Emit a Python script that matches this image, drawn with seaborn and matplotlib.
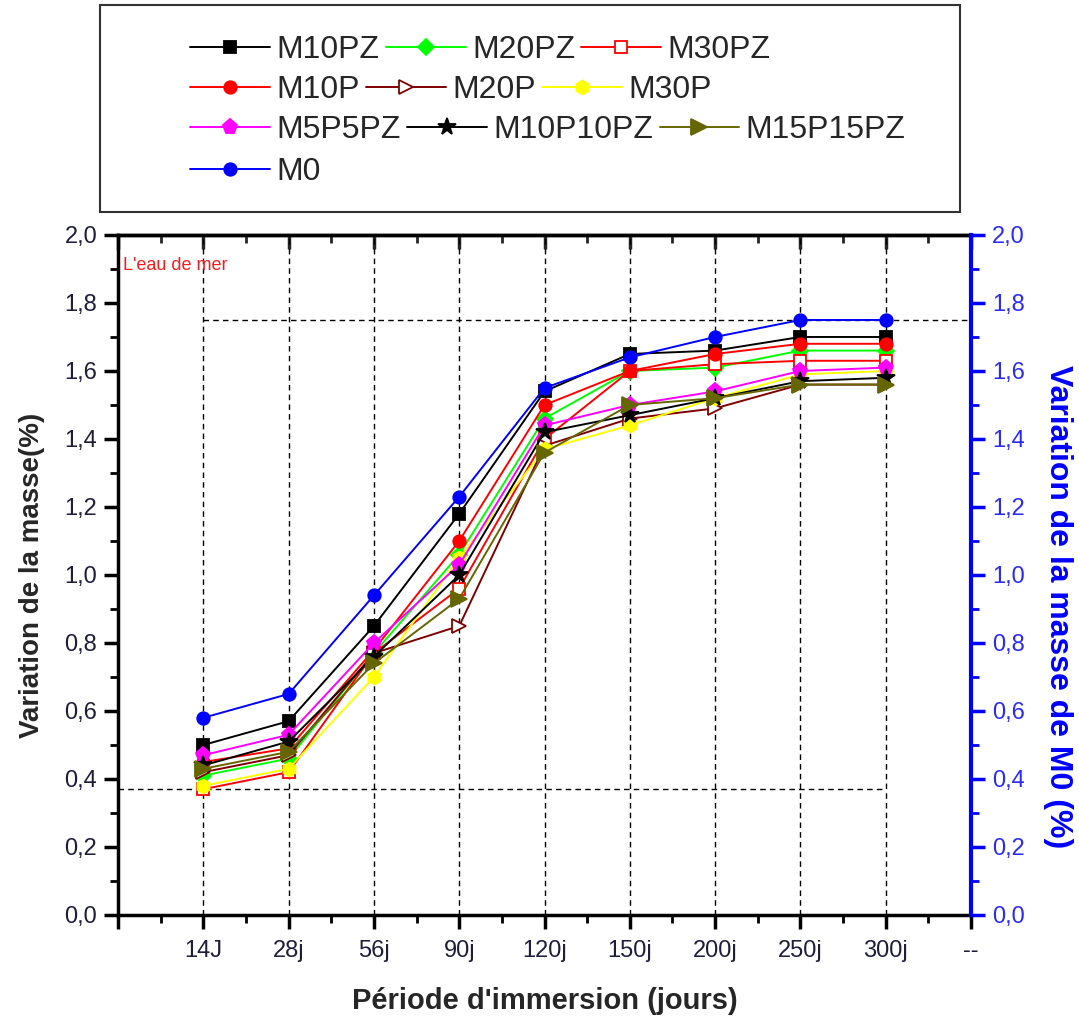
import numpy as np
import pandas as pd
import matplotlib
matplotlib.use("Agg")
import matplotlib.pyplot as plt
import seaborn as sns
from matplotlib.patches import Rectangle
from matplotlib.ticker import MultipleLocator, FuncFormatter

# ------------------------------------------------
# DATA
# ------------------------------------------------

periods = ["14J", "28j", "56j", "90j", "120j", "150j", "200j", "250j", "300j"]

m10pz = [0.50, 0.57, 0.85, 1.18, 1.54, 1.65, 1.66, 1.70, 1.70]
m20pz = [0.41, 0.46, 0.77, 1.06, 1.46, 1.60, 1.61, 1.66, 1.66]
m30pz = [0.37, 0.42, 0.77, 0.96, 1.40, 1.60, 1.62, 1.63, 1.63]
m10p = [0.45, 0.49, 0.78, 1.10, 1.50, 1.60, 1.65, 1.68, 1.68]
m20p = [0.42, 0.47, 0.77, 0.85, 1.38, 1.46, 1.49, 1.56, 1.56]
m30p = [0.38, 0.43, 0.70, 1.05, 1.37, 1.44, 1.52, 1.59, 1.60]
m5p5pz = [0.47, 0.53, 0.80, 1.03, 1.44, 1.50, 1.54, 1.60, 1.61]
m10p10pz = [0.44, 0.51, 0.76, 1.00, 1.42, 1.47, 1.52, 1.57, 1.58]
m15p15pz = [0.43, 0.48, 0.74, 0.93, 1.36, 1.50, 1.52, 1.56, 1.56]
m0 = [0.58, 0.65, 0.94, 1.23, 1.55, 1.64, 1.70, 1.75, 1.75]

series = {
    "M10PZ": m10pz, "M20PZ": m20pz, "M30PZ": m30pz,
    "M10P": m10p, "M20P": m20p, "M30P": m30p,
    "M5P5PZ": m5p5pz, "M10P10PZ": m10p10pz, "M15P15PZ": m15p15pz,
    "M0": m0,
}

# name: (color, marker, face, size)
styles = {
    "M10PZ": ("#000000", "s", "#000000", 8),
    "M20PZ": ("#00ff00", "D", "#00ff00", 8),
    "M30PZ": ("#ff0000", "s", "#ffffff", 8),
    "M10P": ("#ff0000", "o", "#ff0000", 9),
    "M20P": ("#800000", ">", "#ffffff", 10),
    "M30P": ("#ffff00", "h", "#ffff00", 10),
    "M5P5PZ": ("#ff00ff", "p", "#ff00ff", 11),
    "M10P10PZ": ("#000000", "*", "#000000", 13),
    "M15P15PZ": ("#666600", ">", "#666600", 11),
    "M0": ("#0000ff", "o", "#0000ff", 9),
}

legend_rows = [
    ["M10PZ", "M20PZ", "M30PZ"],
    ["M10P", "M20P", "M30P"],
    ["M5P5PZ", "M10P10PZ", "M15P15PZ"],
    ["M0"],
]

x_labels = [""] + periods + ["--"]

# ------------------------------------------------
# FIGURE
# ------------------------------------------------

sns.set_theme(style="ticks")
plt.rcParams["font.family"] = ["Liberation Sans", "DejaVu Sans"]

fig = plt.figure(figsize=(10.79, 10.23), dpi=100)
ax = fig.add_axes([0.1094, 0.1056, 0.7905, 0.6647])

pos = np.arange(1, len(periods) + 1)

# reference dashed lines
all_vals = np.concatenate([np.array(v) for v in series.values()])
for p in pos:
    ax.axvline(p, color="black", lw=1, ls=(0, (4, 3)), zorder=1)
ax.hlines(all_vals.max(), pos[0], len(periods) + 1, color="black", lw=1,
          ls=(0, (4, 3)), zorder=1)
ax.hlines(all_vals.min(), 0, pos[-1], color="black", lw=1,
          ls=(0, (4, 3)), zorder=1)

for name, vals in series.items():
    color, marker, face, ms = styles[name]
    df = pd.DataFrame({"pos": pos, "val": vals})
    sns.lineplot(
        data=df, x="pos", y="val", ax=ax, color=color, linewidth=1.4,
        marker=marker, markersize=ms, markerfacecolor=face,
        markeredgecolor=color, markeredgewidth=1.3, label=name,
        legend=False, errorbar=None, sort=False, zorder=3,
    )

ax.set_xlim(0, len(periods) + 1)
ax.set_ylim(0, 2.0)

comma = FuncFormatter(lambda v, _: f"{v:.1f}".replace(".", ","))

ax.set_xticks(np.arange(0, len(periods) + 2))
ax.set_xticklabels(x_labels)
ax.xaxis.set_minor_locator(MultipleLocator(0.5))
ax.yaxis.set_major_locator(MultipleLocator(0.2))
ax.yaxis.set_minor_locator(MultipleLocator(0.1))
ax.yaxis.set_major_formatter(comma)

ax.tick_params(axis="both", which="major", direction="out", length=10,
               width=2.5, labelsize=17, pad=5, colors="black",
               labelcolor="#1e1e3c")
ax.tick_params(axis="both", which="minor", direction="out", length=6,
               width=2, colors="black")
ax.tick_params(axis="x", which="major", pad=8)

for side in ["left", "bottom", "top"]:
    ax.spines[side].set_linewidth(2.5)
    ax.spines[side].set_color("black")
ax.spines["right"].set_visible(False)

ax.set_xlabel("Période d'immersion (jours)", fontsize=21, fontweight="bold",
              labelpad=18)
ax.set_ylabel("Variation de la masse(%)", fontsize=20, fontweight="bold",
              labelpad=14)

# top ticks pointing inward
top = ax.secondary_xaxis("top")
top.set_xticks(np.arange(0, len(periods) + 2))
top.xaxis.set_minor_locator(MultipleLocator(0.5))
top.tick_params(axis="x", which="major", direction="in", length=10,
                width=2.5, labeltop=False)
top.tick_params(axis="x", which="minor", direction="in", length=6, width=2)
top.spines["top"].set_linewidth(2.5)

# right axis for M0
ax2 = ax.twinx()
ax2.set_ylim(0, 2.0)
ax2.yaxis.set_major_locator(MultipleLocator(0.2))
ax2.yaxis.set_minor_locator(MultipleLocator(0.1))
ax2.yaxis.set_major_formatter(comma)
ax2.tick_params(axis="y", which="major", direction="out", length=10,
                width=2.5, labelsize=17, pad=5, colors="#0000ff",
                labelcolor="#2a2aff")
ax2.tick_params(axis="y", which="minor", direction="out", length=6,
                width=2, colors="#0000ff")
for side in ["left", "bottom", "top"]:
    ax2.spines[side].set_visible(False)
ax2.spines["right"].set_linewidth(3)
ax2.spines["right"].set_color("#0000ff")
ax2.set_ylabel("Variation de la masse de M0 (%)", fontsize=23,
               fontweight="bold", color="#0000ff", rotation=270,
               va="bottom", labelpad=13)
ax2.yaxis.label.set_y(0.453)
ax2.grid(False)
ax.grid(False)

ax.text(0.006, 0.955, "L'eau de mer", transform=ax.transAxes,
        color="#ff1a1a", fontsize=13, va="center", ha="left")

# ------------------------------------------------
# LEGEND (one row per legend, boxed)
# ------------------------------------------------

handles, labels = ax.get_legend_handles_labels()
lookup = dict(zip(labels, handles))

W, H = 1079, 1023
row_y = [50, 90, 130, 172]
for names, yp in zip(legend_rows, row_y):
    fig.legend(
        [lookup[n] for n in names], names, loc="center left",
        bbox_to_anchor=(190 / W, 1 - yp / H), ncol=len(names),
        frameon=False, fontsize=23, handlelength=2.5, handletextpad=0.2,
        columnspacing=0.2, borderpad=0, borderaxespad=0,
    )

fig.patches.append(Rectangle((100 / W, 1 - 212 / H), 860 / W, 207 / H,
                             transform=fig.transFigure, fill=False,
                             edgecolor="#333333", linewidth=1.5))

fig.savefig("out.png", dpi=100)
